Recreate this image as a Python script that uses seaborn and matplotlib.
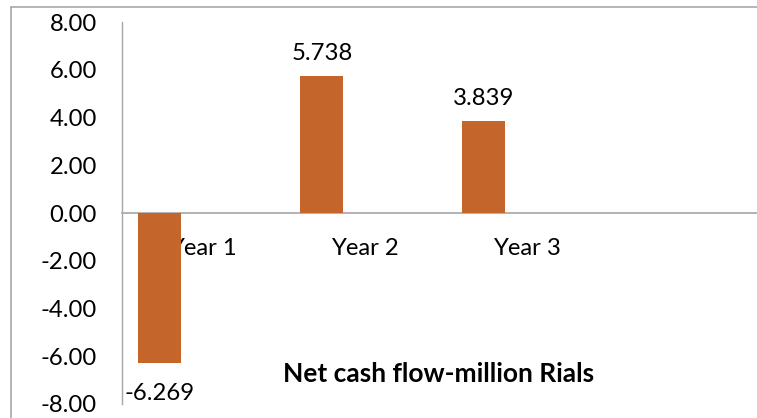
import matplotlib
matplotlib.use("Agg")
import matplotlib.pyplot as plt
from matplotlib.lines import Line2D
import numpy as np
import pandas as pd
import seaborn as sns

# Chart data
years = ["Year 1", "Year 2", "Year 3"]
net_cash_flow = [-6.269, 5.738, 3.839]
series_names = ["Net cash flow", "Series 2", "Series 3"]  # only the first series holds values
y_ticks = [-8, -6, -4, -2, 0, 2, 4, 6, 8]
chart_title = "Net cash flow-million Rials"

bar_color = "#C4662B"
axis_color = "#A6A6A6"
frame_color = "#A0A0A0"
font_size = 17.2
title_size = 19

rows = []
for name in series_names:
    for i, year in enumerate(years):
        val = net_cash_flow[i] if name == series_names[0] else np.nan
        rows.append({"year": year, "series": name, "value": val})
df = pd.DataFrame(rows)

sns.set_theme(style="white")
plt.rcParams["font.family"] = ["Lato", "DejaVu Sans"]
plt.rcParams["font.size"] = font_size

W, H = 757, 418
fig = plt.figure(figsize=(W / 100, H / 100), dpi=100)
fig.patch.set_facecolor("white")

# plot area: left edge at the value axis, extends past the right edge of the canvas
ax = fig.add_axes([122 / W, (H - 403.8) / H, 648 / W, 381.6 / H])

sns.barplot(
    data=df, x="year", y="value", hue="series",
    order=years, hue_order=series_names,
    palette=[bar_color] * len(series_names), saturation=1,
    width=0.8, dodge=True, errorbar=None, legend=False, ax=ax,
    edgecolor="none",
)

ax.set_xlim(-0.5, 3.5)
ax.set_ylim(-8, 8)
ax.set_yticks(y_ticks, labels=[f"{v:.2f}" for v in y_ticks])
ax.set_xticks(range(len(years)), labels=years)
ax.set_xlabel("")
ax.set_ylabel("")
ax.tick_params(axis="y", length=0, pad=18, labelsize=font_size, colors="black")
ax.tick_params(axis="x", length=0, pad=18, labelsize=font_size, colors="black")
for lbl in ax.get_xticklabels():
    lbl.set_zorder(5)

for side in ["top", "right"]:
    ax.spines[side].set_visible(False)
ax.spines["bottom"].set_position(("data", 0))
ax.spines["bottom"].set_color(axis_color)
ax.spines["bottom"].set_linewidth(1.2)
ax.spines["left"].set_color(axis_color)
ax.spines["left"].set_linewidth(1.0)
ax.spines["bottom"].set_zorder(0.5)
ax.grid(False)

# value labels above / below each bar
for bar in ax.patches:
    h = bar.get_height()
    if not np.isfinite(h) or h == 0:
        continue
    cx = bar.get_x() + bar.get_width() / 2
    off = 23 if h > 0 else -31
    ax.annotate(f"{h:.3f}", xy=(cx, h), xytext=(0, off), textcoords="offset pixels",
                ha="center", va="center", fontsize=font_size, color="black")

fig.text(439 / W, 1 - 374 / H, chart_title, ha="center", va="center",
         fontsize=title_size, fontweight="bold", color="black")

# chart frame: top and left edges (the rest lies outside the canvas)
fx, fy = 11 / W, 1 - 7 / H
fig.add_artist(Line2D([fx, 1.05], [fy, fy], transform=fig.transFigure,
                      color=frame_color, linewidth=1.1))
fig.add_artist(Line2D([fx, fx], [-0.05, fy], transform=fig.transFigure,
                      color=frame_color, linewidth=1.1))

fig.savefig("out.png", dpi=100, facecolor="white")
